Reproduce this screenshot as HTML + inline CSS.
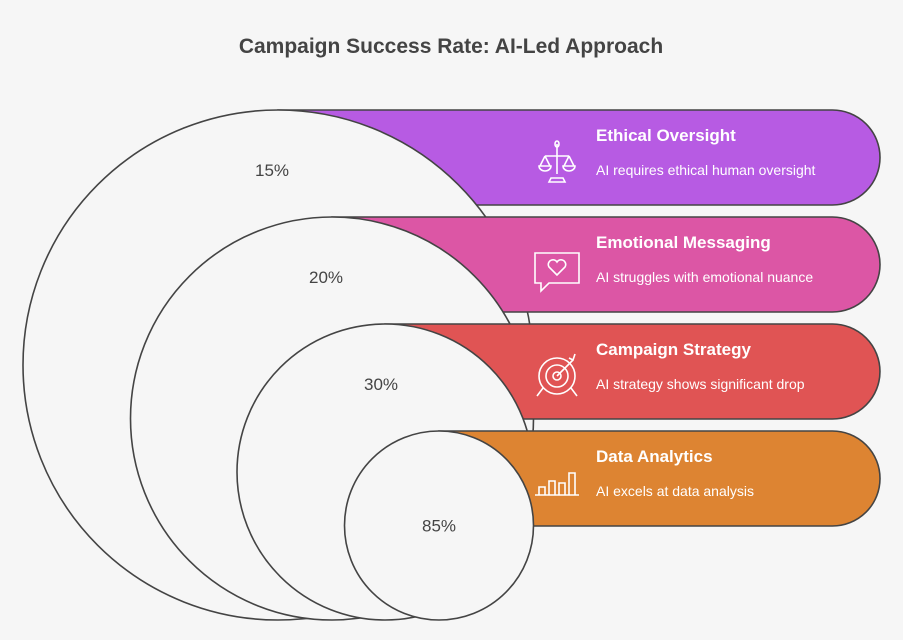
<!DOCTYPE html>
<html><head><meta charset="utf-8"><style>
body{margin:0;background:#f6f6f6;font-family:"Liberation Sans",sans-serif}
svg{display:block}
</style></head><body>
<svg id="c" width="903" height="640" viewBox="0 0 903 640">
<rect width="903" height="640" fill="#f6f6f6"/>
<text x="451" y="53" text-anchor="middle" font-size="21" font-weight="bold" fill="#444">Campaign Success Rate: AI-Led Approach</text>
<g id="g"></g>
</svg>
<script>
const categories=["Ethical Oversight","Emotional Messaging","Campaign Strategy","Data Analytics"];
const descriptions=["AI requires ethical human oversight","AI struggles with emotional nuance","AI strategy shows significant drop","AI excels at data analysis"];
const values=[15,20,30,85];
const labels=["15%","20%","30%","85%"];
const colors=["#b75be3","#dc56a5","#e05454","#dd8432"];
const NS="http://www.w3.org/2000/svg";
const g=document.getElementById('g');
function mk(t,a,p){const e=document.createElementNS(NS,t);for(const k in a)e.setAttribute(k,a[k]);(p||g).appendChild(e);return e;}
const bottom=620,barH=95,right=880;
function barTop(i){return 110+i*107;}
// icons
const icons=[
 '<g fill="none" stroke="#fff" stroke-width="1.6"><path d="M0,-18 v30 M-12,-6 h24 M-12,-6 l-5,10 M-12,-6 l5,10 M12,-6 l-5,10 M12,-6 l5,10 M-18,4 a6,5 0 0 0 12,0z M6,4 a6,5 0 0 0 12,0z M-6,16 h12 l2,4 h-16z"/><ellipse cx="0" cy="-18" rx="2" ry="3"/></g>',
 '<g fill="none" stroke="#fff" stroke-width="1.6"><path d="M-22,-16 h44 v30 h-30 l-8,8 v-8 h-6z M0,6 l-8,-8 a4.5,4.5 0 0 1 8,-5 a4.5,4.5 0 0 1 8,5z"/></g>',
 '<g fill="none" stroke="#fff" stroke-width="1.6"><circle r="18"/><circle r="11"/><circle r="4"/><path d="M0,0 L16,-16 M12,-18 l4,2 l2,-6 M-14,12 l-6,8 M14,12 l6,8"/></g>',
 '<g fill="none" stroke="#fff" stroke-width="1.6"><path d="M-22,12 h44 M-18,12 v-8 h6 v8 M-8,12 v-14 h6 v14 M2,12 v-12 h6 v12 M12,12 v-22 h6 v22"/></g>'
];
values.forEach((v,i)=>{
 const t=barTop(i), r=(bottom-t)/2, cx=[278,332,385,439][i], cy=t+r, R=barH/2;
 const bar=mk('path',{d:`M${cx},${t} H${right-R} A${R},${R} 0 0 1 ${right-R},${t+barH} H${cx} Z`,fill:colors[i],stroke:'#444','stroke-width':1.6});
 
 
 const ic=mk('g',{transform:`translate(557,${t+52})`});ic.innerHTML=icons[i];
 
 
 const h=mk('text',{x:596,y:t+31,'font-size':17,'font-weight':'bold',fill:'#fff'});h.textContent=categories[i];
 
 
 const d=mk('text',{x:596,y:t+65,'font-size':14,fill:'#fff'});d.textContent=descriptions[i];
 
 
 const c=mk('circle',{cx:cx,cy:cy,r:r,fill:'#f6f6f6',stroke:'#444','stroke-width':1.6});
 
 
 const ly=i===3?cy+6:t+66;
 const l=mk('text',{x:cx-(i===3?0:6+ (i==2?-2:0)),y:ly,'font-size':17,'text-anchor':'middle',fill:'#444'});l.textContent=labels[i];
 
 
});
</script>
</body></html>
